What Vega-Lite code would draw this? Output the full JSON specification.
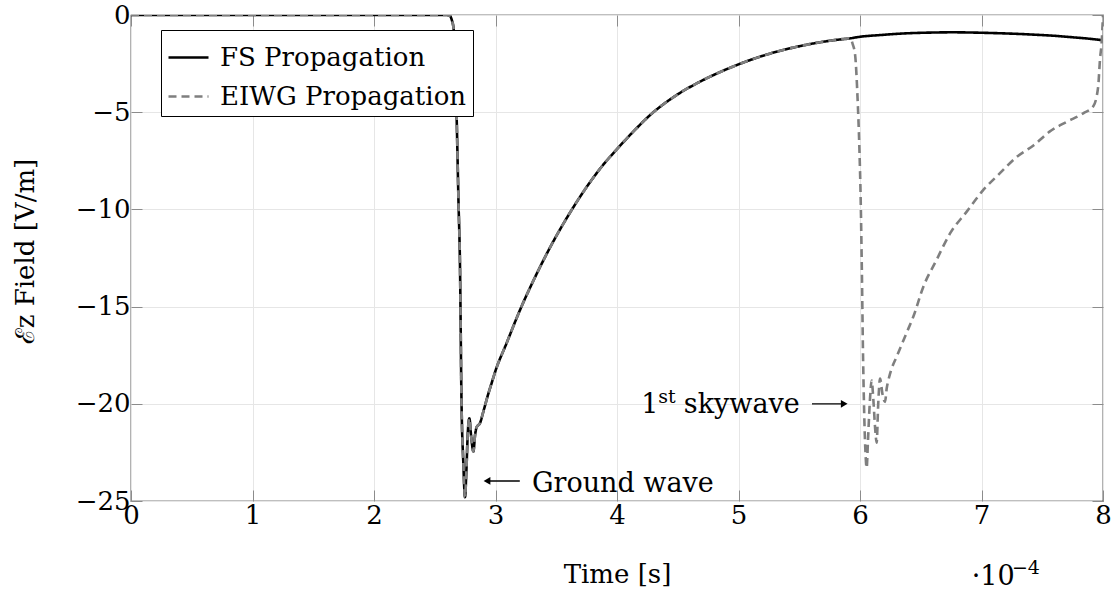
{
  "$schema": "https://vega.github.io/schema/vega-lite/v6.json",
  "width": 972,
  "height": 486,
  "autosize": {"type": "none"},
  "padding": {"left": 131, "top": 15, "right": 9, "bottom": 91},
  "background": "white",
  "config": {
    "view": {"stroke": "black", "strokeWidth": 1.2},
    "font": "DejaVu Serif",
    "axis": {
      "labelFont": "DejaVu Serif",
      "titleFont": "DejaVu Serif",
      "labelFontSize": 26,
      "titleFontSize": 26,
      "titleFontWeight": "normal",
      "labelColor": "black",
      "titleColor": "black",
      "gridColor": "#e6e6e6",
      "gridWidth": 1,
      "tickColor": "#8c8c8c",
      "tickWidth": 1,
      "tickSize": -11,
      "domain": false
    },
    "legend": {
      "labelFont": "DejaVu Serif",
      "labelFontSize": 26,
      "labelColor": "black",
      "labelLimit": 0
    }
  },
  "datasets": {
    "curves": [
      {"t": 0, "v": 0, "series": "FS Propagation"},
      {"t": 1, "v": 0, "series": "FS Propagation"},
      {"t": 2, "v": 0, "series": "FS Propagation"},
      {"t": 2.6, "v": 0, "series": "FS Propagation"},
      {"t": 2.625, "v": -0.05, "series": "FS Propagation"},
      {"t": 2.64, "v": -0.25, "series": "FS Propagation"},
      {"t": 2.655, "v": -0.7, "series": "FS Propagation"},
      {"t": 2.665, "v": -2, "series": "FS Propagation"},
      {"t": 2.68, "v": -5.2, "series": "FS Propagation"},
      {"t": 2.695, "v": -9.5, "series": "FS Propagation"},
      {"t": 2.708, "v": -13, "series": "FS Propagation"},
      {"t": 2.72, "v": -19.8, "series": "FS Propagation"},
      {"t": 2.735, "v": -23, "series": "FS Propagation"},
      {"t": 2.749, "v": -24.8, "series": "FS Propagation"},
      {"t": 2.76, "v": -23.5, "series": "FS Propagation"},
      {"t": 2.772, "v": -21.5, "series": "FS Propagation"},
      {"t": 2.785, "v": -20.75, "series": "FS Propagation"},
      {"t": 2.8, "v": -21.7, "series": "FS Propagation"},
      {"t": 2.818, "v": -22.45, "series": "FS Propagation"},
      {"t": 2.832, "v": -21.6, "series": "FS Propagation"},
      {"t": 2.845, "v": -21.2, "series": "FS Propagation"},
      {"t": 2.872, "v": -21.0, "series": "FS Propagation"},
      {"t": 2.9, "v": -20.4, "series": "FS Propagation"},
      {"t": 2.94, "v": -19.5, "series": "FS Propagation"},
      {"t": 2.97, "v": -18.9, "series": "FS Propagation"},
      {"t": 3.0, "v": -18.3, "series": "FS Propagation"},
      {"t": 3.09, "v": -16.9, "series": "FS Propagation"},
      {"t": 3.2, "v": -15.2, "series": "FS Propagation"},
      {"t": 3.34, "v": -13.3, "series": "FS Propagation"},
      {"t": 3.48, "v": -11.6, "series": "FS Propagation"},
      {"t": 3.61, "v": -10.2, "series": "FS Propagation"},
      {"t": 3.75, "v": -8.85, "series": "FS Propagation"},
      {"t": 3.887, "v": -7.7, "series": "FS Propagation"},
      {"t": 4.0, "v": -6.9, "series": "FS Propagation"},
      {"t": 4.134, "v": -6.0, "series": "FS Propagation"},
      {"t": 4.272, "v": -5.15, "series": "FS Propagation"},
      {"t": 4.49, "v": -4.12, "series": "FS Propagation"},
      {"t": 4.683, "v": -3.43, "series": "FS Propagation"},
      {"t": 4.85, "v": -2.93, "series": "FS Propagation"},
      {"t": 5.0, "v": -2.54, "series": "FS Propagation"},
      {"t": 5.23, "v": -2.04, "series": "FS Propagation"},
      {"t": 5.506, "v": -1.6, "series": "FS Propagation"},
      {"t": 5.78, "v": -1.3, "series": "FS Propagation"},
      {"t": 5.92, "v": -1.2, "series": "FS Propagation"},
      {"t": 6.0, "v": -1.12, "series": "FS Propagation"},
      {"t": 6.17, "v": -1.03, "series": "FS Propagation"},
      {"t": 6.33, "v": -0.96, "series": "FS Propagation"},
      {"t": 6.48, "v": -0.92, "series": "FS Propagation"},
      {"t": 6.62, "v": -0.9, "series": "FS Propagation"},
      {"t": 6.76, "v": -0.89, "series": "FS Propagation"},
      {"t": 6.9, "v": -0.9, "series": "FS Propagation"},
      {"t": 7.04, "v": -0.92, "series": "FS Propagation"},
      {"t": 7.25, "v": -0.96, "series": "FS Propagation"},
      {"t": 7.46, "v": -1.02, "series": "FS Propagation"},
      {"t": 7.6, "v": -1.07, "series": "FS Propagation"},
      {"t": 7.74, "v": -1.14, "series": "FS Propagation"},
      {"t": 7.87, "v": -1.21, "series": "FS Propagation"},
      {"t": 8.0, "v": -1.3, "series": "FS Propagation"},

      {"t": 0, "v": 0, "series": "EIWG Propagation"},
      {"t": 1, "v": 0, "series": "EIWG Propagation"},
      {"t": 2, "v": 0, "series": "EIWG Propagation"},
      {"t": 2.6, "v": 0, "series": "EIWG Propagation"},
      {"t": 2.625, "v": -0.05, "series": "EIWG Propagation"},
      {"t": 2.64, "v": -0.25, "series": "EIWG Propagation"},
      {"t": 2.655, "v": -0.7, "series": "EIWG Propagation"},
      {"t": 2.665, "v": -2, "series": "EIWG Propagation"},
      {"t": 2.68, "v": -5.2, "series": "EIWG Propagation"},
      {"t": 2.695, "v": -9.5, "series": "EIWG Propagation"},
      {"t": 2.708, "v": -13, "series": "EIWG Propagation"},
      {"t": 2.72, "v": -19.8, "series": "EIWG Propagation"},
      {"t": 2.735, "v": -23, "series": "EIWG Propagation"},
      {"t": 2.749, "v": -24.8, "series": "EIWG Propagation"},
      {"t": 2.76, "v": -23.5, "series": "EIWG Propagation"},
      {"t": 2.772, "v": -21.5, "series": "EIWG Propagation"},
      {"t": 2.785, "v": -20.75, "series": "EIWG Propagation"},
      {"t": 2.8, "v": -21.7, "series": "EIWG Propagation"},
      {"t": 2.818, "v": -22.45, "series": "EIWG Propagation"},
      {"t": 2.832, "v": -21.6, "series": "EIWG Propagation"},
      {"t": 2.845, "v": -21.2, "series": "EIWG Propagation"},
      {"t": 2.872, "v": -21.0, "series": "EIWG Propagation"},
      {"t": 2.9, "v": -20.4, "series": "EIWG Propagation"},
      {"t": 2.94, "v": -19.5, "series": "EIWG Propagation"},
      {"t": 2.97, "v": -18.9, "series": "EIWG Propagation"},
      {"t": 3.0, "v": -18.3, "series": "EIWG Propagation"},
      {"t": 3.09, "v": -16.9, "series": "EIWG Propagation"},
      {"t": 3.2, "v": -15.2, "series": "EIWG Propagation"},
      {"t": 3.34, "v": -13.3, "series": "EIWG Propagation"},
      {"t": 3.48, "v": -11.6, "series": "EIWG Propagation"},
      {"t": 3.61, "v": -10.2, "series": "EIWG Propagation"},
      {"t": 3.75, "v": -8.85, "series": "EIWG Propagation"},
      {"t": 3.887, "v": -7.7, "series": "EIWG Propagation"},
      {"t": 4.0, "v": -6.9, "series": "EIWG Propagation"},
      {"t": 4.134, "v": -6.0, "series": "EIWG Propagation"},
      {"t": 4.272, "v": -5.15, "series": "EIWG Propagation"},
      {"t": 4.49, "v": -4.12, "series": "EIWG Propagation"},
      {"t": 4.683, "v": -3.43, "series": "EIWG Propagation"},
      {"t": 4.85, "v": -2.93, "series": "EIWG Propagation"},
      {"t": 5.0, "v": -2.54, "series": "EIWG Propagation"},
      {"t": 5.23, "v": -2.04, "series": "EIWG Propagation"},
      {"t": 5.506, "v": -1.6, "series": "EIWG Propagation"},
      {"t": 5.78, "v": -1.3, "series": "EIWG Propagation"},
      {"t": 5.92, "v": -1.2, "series": "EIWG Propagation"},
      {"t": 5.94, "v": -1.5, "series": "EIWG Propagation"},
      {"t": 5.96, "v": -2.06, "series": "EIWG Propagation"},
      {"t": 5.98, "v": -4.29, "series": "EIWG Propagation"},
      {"t": 5.995, "v": -6.86, "series": "EIWG Propagation"},
      {"t": 6.005, "v": -9.3, "series": "EIWG Propagation"},
      {"t": 6.015, "v": -13.0, "series": "EIWG Propagation"},
      {"t": 6.025, "v": -17.5, "series": "EIWG Propagation"},
      {"t": 6.035, "v": -20.6, "series": "EIWG Propagation"},
      {"t": 6.045, "v": -22.5, "series": "EIWG Propagation"},
      {"t": 6.055, "v": -23.3, "series": "EIWG Propagation"},
      {"t": 6.065, "v": -22.0, "series": "EIWG Propagation"},
      {"t": 6.08, "v": -20.0, "series": "EIWG Propagation"},
      {"t": 6.096, "v": -18.8, "series": "EIWG Propagation"},
      {"t": 6.11, "v": -19.8, "series": "EIWG Propagation"},
      {"t": 6.125, "v": -21.3, "series": "EIWG Propagation"},
      {"t": 6.137, "v": -22.0, "series": "EIWG Propagation"},
      {"t": 6.15, "v": -20.0, "series": "EIWG Propagation"},
      {"t": 6.165, "v": -18.7, "series": "EIWG Propagation"},
      {"t": 6.185, "v": -19.5, "series": "EIWG Propagation"},
      {"t": 6.206, "v": -19.9, "series": "EIWG Propagation"},
      {"t": 6.22, "v": -19.2, "series": "EIWG Propagation"},
      {"t": 6.233, "v": -18.8, "series": "EIWG Propagation"},
      {"t": 6.26, "v": -18.2, "series": "EIWG Propagation"},
      {"t": 6.3, "v": -17.6, "series": "EIWG Propagation"},
      {"t": 6.38, "v": -16.4, "series": "EIWG Propagation"},
      {"t": 6.44, "v": -15.5, "series": "EIWG Propagation"},
      {"t": 6.52, "v": -14.0, "series": "EIWG Propagation"},
      {"t": 6.63, "v": -12.6, "series": "EIWG Propagation"},
      {"t": 6.74, "v": -11.25, "series": "EIWG Propagation"},
      {"t": 6.88, "v": -10.1, "series": "EIWG Propagation"},
      {"t": 7.015, "v": -9.0, "series": "EIWG Propagation"},
      {"t": 7.15, "v": -8.15, "series": "EIWG Propagation"},
      {"t": 7.29, "v": -7.3, "series": "EIWG Propagation"},
      {"t": 7.43, "v": -6.7, "series": "EIWG Propagation"},
      {"t": 7.56, "v": -6.0, "series": "EIWG Propagation"},
      {"t": 7.7, "v": -5.5, "series": "EIWG Propagation"},
      {"t": 7.84, "v": -5.05, "series": "EIWG Propagation"},
      {"t": 7.92, "v": -4.7, "series": "EIWG Propagation"},
      {"t": 7.96, "v": -3.7, "series": "EIWG Propagation"},
      {"t": 7.975, "v": -2.3, "series": "EIWG Propagation"},
      {"t": 7.99, "v": -1.3, "series": "EIWG Propagation"},
      {"t": 8.0, "v": 0, "series": "EIWG Propagation"}
    ],
    "labels": [
      {"t": 3.30, "v": -24.54, "label": "Ground wave"},
      {"t": 4.2, "v": -20.47, "label": "1"},
      {"t": 4.55, "v": -20.47, "label": "skywave"},
      {"t": 6.92, "v": -29.32, "label": "·10"}
    ],
    "smalllabels": [
      {"t": 4.34, "v": -19.96, "label": "st"},
      {"t": 7.25, "v": -28.76, "label": "−4"}
    ],
    "arrows": [
      {"t": 3.2, "t2": 2.93, "v": -23.97, "dir": "left"},
      {"t": 5.605, "t2": 5.87, "v": -20.0, "dir": "right"}
    ]
  },
  "resolve": {"axis": {"x": "independent", "y": "independent"}},
  "layer": [
    {
      "data": {"name": "curves"},
      "transform": [{"filter": "datum.series === 'FS Propagation'"}],
      "mark": {"type": "line", "strokeWidth": 2.6, "clip": true, "interpolate": "monotone"},
      "encoding": {
        "x": {
          "field": "t", "type": "quantitative",
          "scale": {"domain": [0, 8], "nice": false, "zero": false},
          "axis": {
            "orient": "bottom", "values": [0, 1, 2, 3, 4, 5, 6, 7, 8], "format": "d",
            "title": "Time [s]", "titleX": 486, "titleY": 81, "titleBaseline": "alphabetic",
            "labelPadding": 12, "labelFlush": false
          }
        },
        "y": {
          "field": "v", "type": "quantitative",
          "scale": {"domain": [-25, 0], "nice": false, "zero": false},
          "axis": {
            "orient": "left", "values": [-25, -20, -15, -10, -5, 0], "format": "d",
            "title": "ℰz Field [V/m]", "titleX": -98, "titleY": 236, "titleAngle": -90,
            "titleAlign": "center", "titleBaseline": "alphabetic",
            "labelPadding": 12, "labelBaseline": "middle", "labelFlush": false
          }
        },
        "color": {
          "field": "series", "type": "nominal",
          "scale": {"domain": ["FS Propagation", "EIWG Propagation"], "range": ["#000000", "#7f7f7f"]},
          "legend": {
            "orient": "none", "legendX": 30, "legendY": 15, "title": null,
            "fillColor": "white", "strokeColor": "black", "padding": 6,
            "symbolType": "stroke", "symbolSize": 1600, "symbolStrokeWidth": 2.6,
            "labelOffset": 10, "rowPadding": 4
          }
        },
        "strokeDash": {
          "field": "series", "type": "nominal",
          "scale": {"domain": ["FS Propagation", "EIWG Propagation"], "range": [[1, 0], [8, 5]]},
          "legend": {
            "orient": "none", "legendX": 30, "legendY": 15, "title": null,
            "fillColor": "white", "strokeColor": "black", "padding": 6,
            "symbolType": "stroke", "symbolSize": 1600, "symbolStrokeWidth": 2.6,
            "labelOffset": 10, "rowPadding": 4
          }
        }
      }
    },
    {
      "data": {"name": "curves"},
      "transform": [{"filter": "datum.series === 'EIWG Propagation'"}],
      "mark": {"type": "line", "strokeWidth": 2.6, "clip": true, "interpolate": "monotone"},
      "encoding": {
        "x": {
          "field": "t", "type": "quantitative",
          "axis": {"orient": "top", "values": [0, 1, 2, 3, 4, 5, 6, 7, 8], "labels": false, "title": null, "grid": false}
        },
        "y": {
          "field": "v", "type": "quantitative",
          "axis": {"orient": "right", "values": [-25, -20, -15, -10, -5, 0], "labels": false, "title": null, "grid": false}
        },
        "color": {"field": "series", "type": "nominal"},
        "strokeDash": {"field": "series", "type": "nominal"}
      }
    },
    {
      "data": {"name": "arrows"},
      "mark": {"type": "rule", "color": "black", "strokeWidth": 1.3},
      "encoding": {
        "x": {"field": "t", "type": "quantitative", "axis": null},
        "x2": {"field": "t2"},
        "y": {"field": "v", "type": "quantitative", "axis": null}
      }
    },
    {
      "data": {"name": "arrows"},
      "transform": [{"filter": "datum.dir === 'left'"}],
      "mark": {"type": "point", "shape": "triangle-left", "filled": true, "color": "black", "size": 60, "opacity": 1},
      "encoding": {
        "x": {"field": "t2", "type": "quantitative", "axis": null},
        "y": {"field": "v", "type": "quantitative", "axis": null}
      }
    },
    {
      "data": {"name": "arrows"},
      "transform": [{"filter": "datum.dir === 'right'"}],
      "mark": {"type": "point", "shape": "triangle-right", "filled": true, "color": "black", "size": 60, "opacity": 1},
      "encoding": {
        "x": {"field": "t2", "type": "quantitative", "axis": null},
        "y": {"field": "v", "type": "quantitative", "axis": null}
      }
    },
    {
      "data": {"name": "labels"},
      "mark": {"type": "text", "font": "DejaVu Serif", "fontSize": 27, "align": "left", "baseline": "alphabetic", "color": "black"},
      "encoding": {
        "x": {"field": "t", "type": "quantitative", "axis": null},
        "y": {"field": "v", "type": "quantitative", "axis": null},
        "text": {"field": "label"}
      }
    },
    {
      "data": {"name": "smalllabels"},
      "mark": {"type": "text", "font": "DejaVu Serif", "fontSize": 19, "align": "left", "baseline": "alphabetic", "color": "black"},
      "encoding": {
        "x": {"field": "t", "type": "quantitative", "axis": null},
        "y": {"field": "v", "type": "quantitative", "axis": null},
        "text": {"field": "label"}
      }
    }
  ]
}
